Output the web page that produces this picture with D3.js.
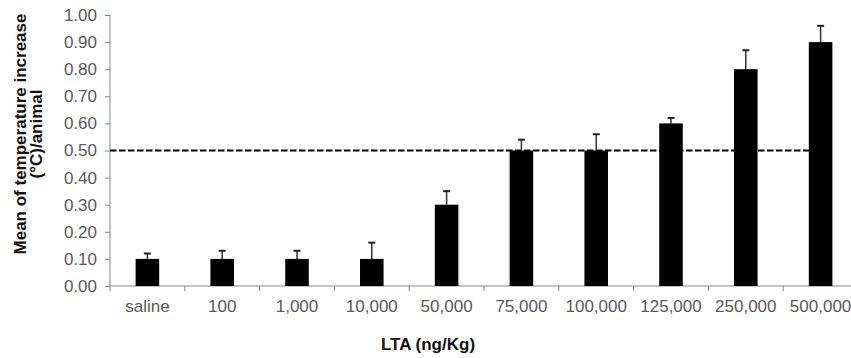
<!DOCTYPE html>
<html>
<head>
<meta charset="utf-8">
<script src="https://cdn.jsdelivr.net/npm/d3@7.9.0/dist/d3.min.js"></script>
<style>
  body { margin: 0; background: #fff; }
  svg { display: block; font-family: Arial, "Liberation Sans", sans-serif; }
</style>
</head>
<body>
<svg id="chart" width="851" height="358"></svg>
<script>
const doses = ['saline', '100', '1,000', '10,000', '50,000', '75,000', '100,000', '125,000', '250,000', '500,000'];
const means = [0.10, 0.10, 0.10, 0.10, 0.30, 0.50, 0.50, 0.60, 0.80, 0.90];
const errors = [0.02, 0.03, 0.03, 0.06, 0.05, 0.04, 0.06, 0.02, 0.07, 0.06];
const yTicks = [0, 0.1, 0.2, 0.3, 0.4, 0.5, 0.6, 0.7, 0.8, 0.9, 1.0];
const threshold = 0.5;

const svg = d3.select('#chart');
const plotLeft = 110, plotRight = 858, plotTop = 15, plotBottom = 286;

const y = d3.scaleLinear().domain([0, 1]).range([plotBottom, plotTop]);
// step scale for tick boundaries, bar scale for the bars themselves
const xStep = d3.scaleBand().domain(doses).range([plotLeft, plotRight]);
const xBar = d3.scaleBand().domain(doses).range([plotLeft, plotRight])
  .paddingInner(0.685).paddingOuter(0.3425);

const axisGrey = '#888';
const labelGrey = '#595959';

// y axis
const yAxis = svg.append('g')
  .attr('transform', `translate(${plotLeft},0)`)
  .call(d3.axisLeft(y).tickValues(yTicks).tickFormat(d3.format('.2f'))
    .tickSize(5).tickSizeOuter(0).tickPadding(8));
yAxis.select('.domain').attr('stroke', axisGrey).attr('d', `M0,${plotTop}V${plotBottom + 5}`);
yAxis.selectAll('.tick line').attr('stroke', axisGrey);
yAxis.selectAll('.tick text').attr('fill', labelGrey).style('font-size', '17px');

// dashed reference line (behind bars)
svg.append('line')
  .attr('x1', plotLeft).attr('x2', xBar('500,000') + xBar.bandwidth() / 2)
  .attr('y1', y(threshold)).attr('y2', y(threshold))
  .attr('stroke', '#000').attr('stroke-width', 2)
  .attr('stroke-dasharray', '6.5,2.5');

// x axis
svg.append('line')
  .attr('x1', plotLeft).attr('x2', plotRight)
  .attr('y1', plotBottom).attr('y2', plotBottom)
  .attr('stroke', axisGrey);
svg.selectAll('.xtick')
  .data(doses.slice(1).concat([null]))
  .join('line')
  .attr('class', 'xtick')
  .attr('x1', d => d === null ? plotRight : xStep(d))
  .attr('x2', d => d === null ? plotRight : xStep(d))
  .attr('y1', plotBottom).attr('y2', plotBottom + 5)
  .attr('stroke', axisGrey);
svg.selectAll('.xlabel')
  .data(doses)
  .join('text')
  .attr('class', 'xlabel')
  .attr('x', d => xStep(d) + xStep.bandwidth() / 2)
  .attr('y', 312)
  .attr('text-anchor', 'middle')
  .attr('fill', labelGrey)
  .style('font-size', '17px')
  .text(d => d);

// error bars
const errG = svg.append('g');
doses.forEach((d, i) => {
  const cx = xBar(d) + xBar.bandwidth() / 2;
  errG.append('line')
    .attr('x1', cx).attr('x2', cx)
    .attr('y1', y(means[i])).attr('y2', y(means[i] + errors[i]))
    .attr('stroke', '#333').attr('stroke-width', 1.5);
  errG.append('line')
    .attr('x1', cx - 3.5).attr('x2', cx + 3.5)
    .attr('y1', y(means[i] + errors[i])).attr('y2', y(means[i] + errors[i]))
    .attr('stroke', '#222').attr('stroke-width', 2);
});

// bars
svg.selectAll('.bar')
  .data(means)
  .join('rect')
  .attr('class', 'bar')
  .attr('x', (d, i) => xBar(doses[i]))
  .attr('width', xBar.bandwidth())
  .attr('y', d => y(d))
  .attr('height', d => y(0) - y(d))
  .attr('fill', '#000');

// axis titles
const yTitle = svg.append('text')
  .attr('transform', 'translate(26,134) rotate(-90)')
  .attr('text-anchor', 'middle')
  .style('font-size', '17px')
  .style('font-weight', 'bold')
  .attr('fill', '#111');
yTitle.append('tspan').attr('x', 0).attr('dy', 0).text('Mean of temperature increase');
yTitle.append('tspan').attr('x', 0).attr('dy', 15.5).text('(°C)/animal');

svg.append('text')
  .attr('x', 428).attr('y', 350)
  .attr('text-anchor', 'middle')
  .style('font-size', '17px')
  .style('font-weight', 'bold')
  .attr('fill', '#111')
  .text('LTA (ng/Kg)');
</script>
</body>
</html>
